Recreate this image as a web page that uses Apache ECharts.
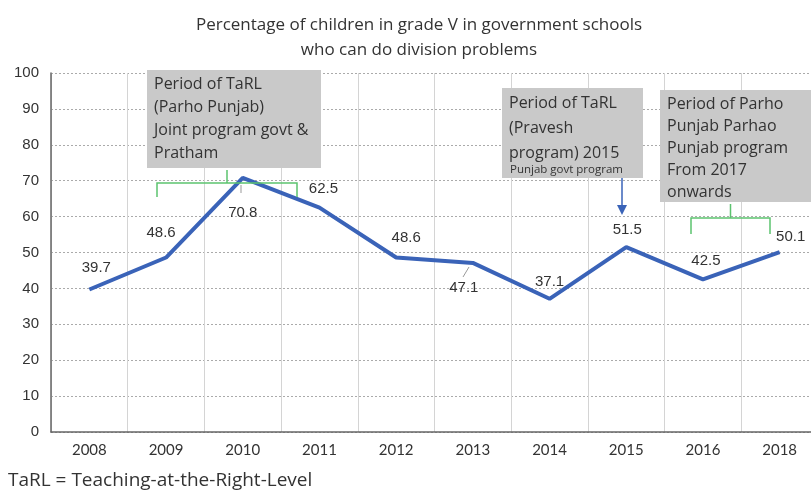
<!DOCTYPE html>
<html>
<head>
<meta charset="utf-8">
<script src="https://cdn.jsdelivr.net/npm/echarts@6/dist/echarts.min.js"></script>
<style>
  html, body { margin: 0; padding: 0; background: #fff; }
  #chart { width: 811px; height: 498px; }
</style>
</head>
<body>
<div id="chart"></div>
<script>
const years = ['2008', '2009', '2010', '2011', '2012', '2013', '2014', '2015', '2016', '2018'];
const shares = [39.7, 48.6, 70.8, 62.5, 48.6, 47.1, 37.1, 51.5, 42.5, 50.1];
// where each value label sits relative to its point
const labelOffsets = [[7, -22], [-5, -25], [0, 35], [4, -19], [10, -20], [-9, 25], [0, -17], [1, -17], [3, -19], [11, -15]];

const titleLines = 'Percentage of children in grade V in government schools\nwho can do division problems';
const footnote = 'TaRL = Teaching-at-the-Right-Level';

const textFont = '"Open Sans"';
const numFont = '"Liberation Sans", Arial';
const boxFill = '#c9c9c9';
const bracketColor = '#5cc36f';
const lineBlue = '#3a63b8';

const chart = echarts.init(document.getElementById('chart'));

const bracket = (x1, x2, y, drop, rise) => {
  const mid = (x1 + x2) / 2;
  return {
    type: 'polyline',
    shape: { points: [[x1, y + drop], [x1, y], [mid, y], [mid, y - rise], [mid, y], [x2, y], [x2, y + drop]] },
    style: { stroke: bracketColor, lineWidth: 1.5, fill: null },
    z: 100
  };
};

const box = (x, y, w, h, lines, lh, small) => {
  const shapes = [
    { type: 'rect', x, y, shape: { x: 0, y: 0, width: w, height: h }, style: { fill: boxFill }, z: 100 },
    { type: 'text', x: x + 7, y: y + 3, style: { text: lines, font: '16px ' + textFont, fill: '#333', lineHeight: lh }, z: 101 }
  ];
  if (small) {
    shapes.push({ type: 'text', x: x + 8, y: y + 82, style: { text: small, font: '11.5px ' + textFont, fill: '#333', verticalAlign: 'middle' }, z: 101 });
  }
  return shapes;
};

chart.setOption({
  animation: false,
  title: {
    text: titleLines,
    left: 414,
    textAlign: 'center',
    top: 8,
    textStyle: { fontFamily: textFont, fontSize: 17, fontWeight: 'normal', color: '#333', lineHeight: 25 }
  },
  grid: { left: 51, width: 767, top: 73, bottom: 66, outerBoundsMode: 'none', containLabel: false },
  xAxis: {
    type: 'category',
    data: years,
    boundaryGap: true,
    axisLine: { lineStyle: { color: '#666', width: 1.5 } },
    axisTick: { show: false },
    axisLabel: { fontFamily: 'Lato', fontSize: 15, color: '#333', margin: 11 },
    splitLine: { show: true, interval: 0, lineStyle: { color: '#d4d4d4', width: 1 } }
  },
  yAxis: {
    type: 'value',
    min: 0,
    max: 100,
    interval: 10,
    axisLine: { show: true, lineStyle: { color: '#666', width: 1.5 } },
    axisTick: { show: false },
    axisLabel: { fontFamily: numFont, fontSize: 15, color: '#333', margin: 12 },
    splitLine: { lineStyle: { color: '#aaa', type: [2, 2], width: 1 } }
  },
  series: [{
    type: 'line',
    data: shares.map((v, i) => ({
      value: v,
      label: { offset: labelOffsets[i] }
    })),
    symbol: 'circle',
    symbolSize: 2,
    itemStyle: { color: 'transparent', borderWidth: 0 },
    lineStyle: { color: lineBlue, width: 4 },
    label: {
      show: true,
      position: 'inside',
      fontFamily: numFont,
      fontSize: 15,
      color: '#333'
    },
    z: 5
  }],
  graphic: [
    ...box(147, 70, 174, 98, 'Period of TaRL\n(Parho Punjab)\nJoint program govt &\nPratham', 23),
    ...box(502, 88, 141, 90, 'Period of TaRL\n(Pravesh\nprogram) 2015', 25, 'Punjab govt program'),
    ...box(660, 90, 151, 112, 'Period of Parho\nPunjab Parhao\nPunjab program\nFrom 2017\nonwards', 22),
    bracket(157, 297, 183, 14, 13),
    bracket(691, 770, 218, 16, 14),
    { type: 'line', shape: { x1: 622, y1: 178, x2: 622, y2: 207 }, style: { stroke: lineBlue, lineWidth: 1.5 }, z: 100 },
    { type: 'polygon', shape: { points: [[617, 205], [627, 205], [622, 215]] }, style: { fill: lineBlue }, z: 100 },
    { type: 'line', shape: { x1: 241, y1: 185, x2: 241, y2: 193 }, style: { stroke: '#999', lineWidth: 1 }, z: 4 },
    { type: 'line', shape: { x1: 469, y1: 267, x2: 463, y2: 277 }, style: { stroke: '#999', lineWidth: 1 }, z: 4 },
    { type: 'text', left: 8, top: 471, style: { text: footnote, font: '19px ' + textFont, fill: '#333' } }
  ]
});
</script>
</body>
</html>
